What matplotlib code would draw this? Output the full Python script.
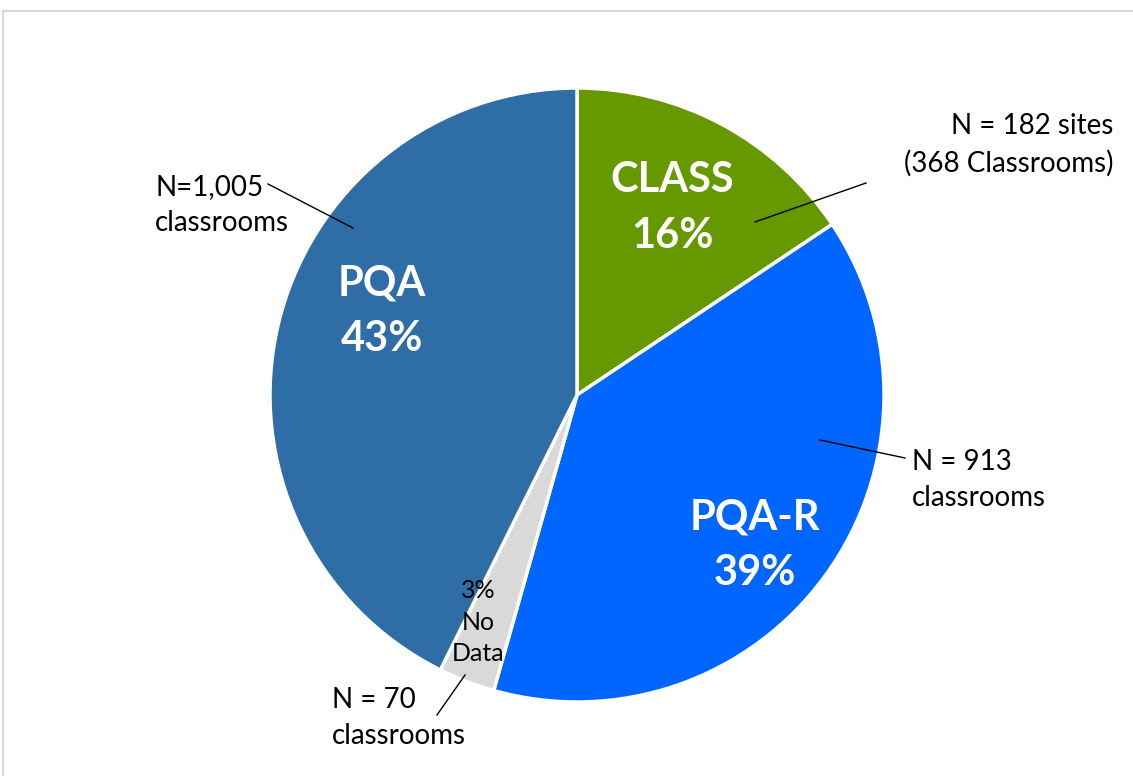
import matplotlib.pyplot as plt
from matplotlib.patches import Rectangle

# slice data (clockwise from 12 o'clock)
names = ["CLASS", "PQA-R", "No Data", "PQA"]
counts = [368, 913, 70, 1005]
pct_labels = ["CLASS\n16%", "PQA-R\n39%", "3%\nNo\nData", "PQA\n43%"]
colors = ["#669900", "#0066FF", "#D9D9D9", "#2E6DA5"]
n_labels = ["N = 182 sites\n(368 Classrooms)", "N = 913\nclassrooms",
            "N = 70\nclassrooms", "N=1,005\nclassrooms"]

plt.rcParams["font.family"] = ["Lato", "DejaVu Sans"]

W, H = 1133, 776
fig = plt.figure(figsize=(W / 100, H / 100), dpi=100)
ax = fig.add_axes([0, 0, 1, 1])


def py(y):
    # pixel row (from top) -> data y
    return H - y


cx, cy, r = 577, py(395), 307
ax.pie(counts, colors=colors, startangle=90, counterclock=False,
       center=(cx, cy), radius=r, frame=True,
       wedgeprops=dict(edgecolor="white", linewidth=2.5))
ax.set_xlim(0, W)
ax.set_ylim(0, H)
ax.set_aspect("auto")
ax.axis("off")

# light frame around the chart area
ax.add_patch(Rectangle((3, -10), W + 10, py(11) + 10, fill=False,
                       edgecolor="#D0D0D0", linewidth=1.2))

# labels inside slices
inner_pos = [(672, 208), (755, 545), (478, 622), (382, 311)]
inner_size = [30, 30, 18, 30]
inner_col = ["white", "white", "black", "white"]
inner_weight = ["bold", "bold", "normal", "bold"]
inner_ls = [1.55, 1.55, 1.45, 1.55]
for lab, (x, y), fs, c, w, ls in zip(pct_labels, inner_pos, inner_size,
                                     inner_col, inner_weight, inner_ls):
    ax.text(x, py(y), lab, ha="center", va="center", fontsize=fs, color=c,
            fontweight=w, linespacing=ls)

# outside N labels with leader lines
out_pos = [(1113, 145), (912, 480), (332, 718), (155, 205)]
out_ha = ["right", "left", "left", "left"]
for lab, (x, y), ha in zip(n_labels, out_pos, out_ha):
    ax.text(x, py(y), lab, ha=ha, va="center", fontsize=20, color="black",
            linespacing=1.5)

leaders = [((755, 222), (866, 183)), ((820, 440), (905, 458)),
           ((465, 675), (437, 715)), ((353, 228), (268, 184))]
for (x0, y0), (x1, y1) in leaders:
    ax.plot([x0, x1], [py(y0), py(y1)], color="black", linewidth=1)

fig.savefig("out.png", dpi=100)
